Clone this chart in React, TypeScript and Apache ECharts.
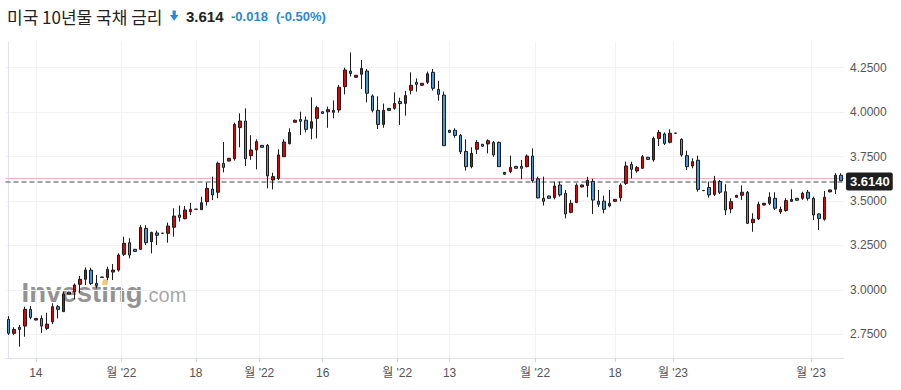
import React, { useEffect, useRef } from 'react';
import * as echarts from 'echarts';

// OHLC values (oldest -> newest)
const opens = [
  2.834, 2.755, 2.789, 2.796, 2.890, 2.830, 2.839, 2.783, 2.820, 2.905,
  2.877, 2.976, 2.989, 3.031, 3.059, 3.111, 3.036, 3.072, 3.070, 3.100,
  3.111, 3.200, 3.265, 3.228, 3.228, 3.346, 3.271, 3.320, 3.319, 3.318,
  3.352, 3.421, 3.400, 3.440, 3.454, 3.451, 3.496, 3.567, 3.549, 3.712,
  3.725, 3.738, 3.913, 3.950, 3.755, 3.787, 3.813, 3.813, 3.618, 3.627,
  3.749, 3.822, 3.943, 3.959, 3.954, 3.909, 3.965, 4.002, 4.002, 3.999,
  4.012, 4.143, 4.231, 4.196, 4.213, 4.231, 4.091, 4.010, 3.931, 4.010,
  4.021, 4.059, 4.049, 4.123, 4.168, 4.151, 4.168, 4.224, 4.128, 4.096,
  3.898, 3.898, 3.869, 3.779, 3.693, 3.791, 3.819, 3.821, 3.830, 3.830,
  3.650, 3.665, 3.695, 3.695, 3.693, 3.753, 3.625, 3.515, 3.528, 3.520,
  3.590, 3.543, 3.436, 3.492, 3.579, 3.587, 3.610, 3.499, 3.499, 3.472,
  3.498, 3.518, 3.599, 3.706, 3.669, 3.684, 3.746, 3.731, 3.852, 3.877,
  3.830, 3.882, 3.847, 3.755, 3.697, 3.729, 3.559, 3.576, 3.537, 3.609,
  3.552, 3.455, 3.521, 3.532, 3.549, 3.378, 3.399, 3.477, 3.487, 3.515,
  3.438, 3.446, 3.498, 3.515, 3.515, 3.549, 3.515, 3.427, 3.397, 3.551,
  3.566, 3.645,
];
const closes = [
  2.755, 2.777, 2.777, 2.890, 2.845, 2.839, 2.796, 2.807, 2.905, 2.890,
  2.976, 2.987, 3.027, 3.059, 3.111, 3.036, 3.025, 3.070, 3.115, 3.111,
  3.196, 3.262, 3.196, 3.216, 3.351, 3.265, 3.323, 3.307, 3.318, 3.359,
  3.415, 3.408, 3.449, 3.453, 3.453, 3.490, 3.571, 3.534, 3.712, 3.689,
  3.740, 3.931, 3.950, 3.738, 3.787, 3.834, 3.802, 3.641, 3.637, 3.759,
  3.832, 3.886, 3.954, 3.948, 3.903, 3.946, 4.025, 3.993, 4.014, 4.010,
  4.140, 4.237, 4.218, 4.207, 4.246, 4.106, 4.010, 3.931, 4.010, 4.021,
  4.049, 4.048, 4.093, 4.151, 4.156, 4.162, 4.216, 4.134, 4.100, 3.811,
  3.886, 3.869, 3.777, 3.693, 3.768, 3.830, 3.808, 3.839, 3.759, 3.693,
  3.661, 3.689, 3.684, 3.684, 3.753, 3.614, 3.517, 3.498, 3.515, 3.584,
  3.534, 3.427, 3.487, 3.589, 3.590, 3.616, 3.505, 3.481, 3.453, 3.487,
  3.509, 3.589, 3.697, 3.678, 3.689, 3.749, 3.734, 3.852, 3.886, 3.824,
  3.881, 3.881, 3.759, 3.693, 3.721, 3.565, 3.558, 3.534, 3.614, 3.549,
  3.449, 3.496, 3.532, 3.549, 3.374, 3.397, 3.481, 3.487, 3.521, 3.459,
  3.453, 3.502, 3.509, 3.504, 3.543, 3.515, 3.421, 3.402, 3.521, 3.562,
  3.645, 3.614,
];
const lows = [
  2.746, 2.745, 2.680, 2.736, 2.834, 2.828, 2.758, 2.773, 2.807, 2.839,
  2.877, 2.975, 2.946, 2.984, 3.027, 3.027, 3.008, 3.069, 3.055, 3.055,
  3.102, 3.190, 3.177, 3.214, 3.224, 3.252, 3.205, 3.252, 3.317, 3.265,
  3.299, 3.384, 3.397, 3.421, 3.452, 3.449, 3.474, 3.505, 3.515, 3.661,
  3.723, 3.727, 3.802, 3.697, 3.731, 3.678, 3.800, 3.571, 3.565, 3.618,
  3.749, 3.819, 3.941, 3.871, 3.886, 3.847, 3.852, 3.991, 3.912, 3.965,
  3.997, 4.100, 4.200, 4.194, 4.130, 4.055, 3.999, 3.905, 3.912, 4.008,
  4.014, 3.928, 3.980, 4.100, 4.115, 4.150, 4.158, 4.121, 4.064, 3.811,
  3.885, 3.856, 3.764, 3.671, 3.684, 3.764, 3.806, 3.768, 3.749, 3.693,
  3.648, 3.656, 3.682, 3.622, 3.689, 3.603, 3.515, 3.474, 3.513, 3.509,
  3.524, 3.402, 3.430, 3.487, 3.577, 3.521, 3.426, 3.466, 3.430, 3.464,
  3.496, 3.498, 3.590, 3.627, 3.659, 3.680, 3.732, 3.721, 3.809, 3.815,
  3.824, 3.880, 3.749, 3.674, 3.684, 3.552, 3.557, 3.519, 3.528, 3.539,
  3.421, 3.431, 3.519, 3.506, 3.370, 3.327, 3.393, 3.475, 3.477, 3.449,
  3.427, 3.440, 3.496, 3.502, 3.506, 3.502, 3.393, 3.337, 3.389, 3.549,
  3.539, 3.612,
];
const highs = [
  2.852, 2.789, 2.802, 2.905, 2.909, 2.841, 2.856, 2.871, 2.924, 2.914,
  2.989, 2.989, 3.036, 3.078, 3.126, 3.124, 3.083, 3.073, 3.130, 3.145,
  3.205, 3.299, 3.290, 3.230, 3.364, 3.364, 3.327, 3.333, 3.320, 3.378,
  3.459, 3.474, 3.472, 3.490, 3.455, 3.524, 3.603, 3.637, 3.721, 3.832,
  3.742, 3.941, 3.993, 4.021, 3.870, 3.847, 3.815, 3.821, 3.659, 3.791,
  3.847, 3.909, 3.958, 4.002, 3.976, 4.083, 4.036, 4.004, 4.031, 4.066,
  4.153, 4.250, 4.336, 4.209, 4.293, 4.243, 4.100, 4.089, 4.048, 4.023,
  4.111, 4.081, 4.119, 4.224, 4.190, 4.164, 4.228, 4.243, 4.177, 4.115,
  3.900, 3.909, 3.877, 3.847, 3.802, 3.843, 3.821, 3.847, 3.838, 3.834,
  3.663, 3.755, 3.697, 3.731, 3.762, 3.796, 3.637, 3.637, 3.530, 3.609,
  3.609, 3.562, 3.506, 3.599, 3.592, 3.636, 3.625, 3.562, 3.530, 3.562,
  3.511, 3.599, 3.721, 3.721, 3.697, 3.759, 3.748, 3.862, 3.899, 3.886,
  3.903, 3.883, 3.852, 3.783, 3.740, 3.755, 3.560, 3.609, 3.641, 3.618,
  3.594, 3.515, 3.534, 3.587, 3.556, 3.431, 3.496, 3.489, 3.549, 3.549,
  3.468, 3.515, 3.566, 3.517, 3.552, 3.562, 3.524, 3.430, 3.556, 3.564,
  3.656, 3.656,
];
const categories = opens.map((_, i) => String(i + 1));

const yTicks = [2.75, 3.0, 3.25, 3.5, 3.75, 4.0, 4.25];
const yMin = 2.6163;
const yMax = 4.3946;

// x tick positions expressed in candle-index units, with their labels
const xTickPositions = [5, 20.5, 34, 45.5, 57, 70.5, 80, 95.5, 110, 120.5, 145.5];
const xTickLabels = ['14', "월 '22", '18', "월 '22", '16', "월 '22", '13', "월 '22", '18', "월 '23", "월 '23"];

const titleText = '미국 10년물 국채 금리';
const lastPrice = 3.614;
const prevClose = 3.632;
const changeValue = -0.018;
const changePct = -0.5;

const UP = '#e80000';
const DOWN = '#4596dc';
const EDGE = '#1b1b1b';
const BLUE_TEXT = '#2c86d6';
const LATIN = '"Liberation Sans", Arial, "Noto Sans CJK KR", sans-serif';

export default function App() {
  const ref = useRef<HTMLDivElement>(null);

  useEffect(() => {
    if (!ref.current) return;
    const chart = echarts.init(ref.current, null, { renderer: 'svg' });
    const data = opens.map((o, i) => [o, closes[i], lows[i], highs[i]]);

    const option: any = {
      animation: false,
      backgroundColor: '#ffffff',
      grid: { left: 5.5, right: 57, top: 42, bottom: 32 },
      xAxis: [
        {
          type: 'category',
          data: categories,
          boundaryGap: true,
          axisLine: { show: true, lineStyle: { color: '#e0e3eb', width: 1 } },
          axisTick: { show: false },
          axisLabel: { show: false },
          splitLine: { show: false },
        },
        {
          type: 'value',
          gridIndex: 0,
          position: 'bottom',
          min: -0.5,
          max: categories.length - 0.5,
          axisLine: { show: false },
          axisTick: {
            show: true,
            length: 4,
            customValues: xTickPositions,
            lineStyle: { color: '#d3d6dd' },
          },
          axisLabel: {
            customValues: xTickPositions,
            formatter: (v: number) => {
              const k = xTickPositions.findIndex((p) => Math.abs(p - v) < 1e-6);
              return k >= 0 ? xTickLabels[k] : '';
            },
            color: '#555',
            fontSize: 12,
            margin: 9,
            fontFamily: LATIN,
          },
          splitLine: { show: true, lineStyle: { color: '#f1f2f5', width: 1 } },
        },
      ],
      yAxis: {
        type: 'value',
        position: 'right',
        min: yMin,
        max: yMax,
        axisLine: { show: true, lineStyle: { color: '#e0e3eb' } },
        axisTick: { show: false, customValues: yTicks },
        axisLabel: {
          customValues: yTicks,
          formatter: (v: number) => v.toFixed(4),
          color: '#555',
          fontSize: 12,
          margin: 6,
          fontFamily: LATIN,
        },
        splitLine: { show: true, lineStyle: { color: '#f0f2f6', width: 1 } },
      },
      series: [
        {
          type: 'candlestick',
          data,
          z: 5,
          barWidth: 3,
          itemStyle: {
            color: UP,
            color0: DOWN,
            borderColor: EDGE,
            borderColor0: EDGE,
            borderColorDoji: EDGE,
            borderWidth: 1,
          },
          markLine: {
            silent: true,
            symbol: ['none', 'none'],
            animation: false,
            data: [
              {
                yAxis: prevClose,
                lineStyle: { color: '#f6b3b7', type: 'solid', width: 1 },
                label: { show: false },
              },
              {
                yAxis: lastPrice,
                lineStyle: { color: '#858585', type: [5, 3], width: 1.5 },
                label: {
                  show: true,
                  position: 'end',
                  distance: 2,
                  formatter: lastPrice.toFixed(4),
                  backgroundColor: '#1e1e1e',
                  color: '#ffffff',
                  fontWeight: 'bold',
                  fontSize: 13,
                  fontFamily: LATIN,
                  padding: [3, 3, 2, 4],
                  borderRadius: 2,
                },
              },
            ],
          },
        },
      ],
      graphic: [
        {
          type: 'text',
          x: 7,
          y: 16,
          z: 10,
          style: {
            text: titleText,
            font: '17px "Noto Sans CJK KR", sans-serif',
            fill: '#222',
            verticalAlign: 'middle',
          },
        },
        {
          type: 'polygon',
          z: 10,
          shape: {
            points: [
              [172.6, 10.5], [175.8, 10.5], [175.8, 15], [178.4, 15],
              [174.2, 20.7], [170, 15], [172.6, 15],
            ],
          },
          style: { fill: BLUE_TEXT },
        },
        {
          type: 'text',
          x: 186,
          y: 16.5,
          z: 10,
          style: {
            text: lastPrice.toFixed(3),
            font: 'bold 15px ' + LATIN,
            fill: '#222',
            verticalAlign: 'middle',
          },
        },
        {
          type: 'text',
          x: 231,
          y: 16.5,
          z: 10,
          style: {
            text: changeValue.toFixed(3),
            font: 'bold 13px ' + LATIN,
            fill: BLUE_TEXT,
            verticalAlign: 'middle',
          },
        },
        {
          type: 'text',
          x: 276,
          y: 16.5,
          z: 10,
          style: {
            text: '(' + changePct.toFixed(2) + '%)',
            font: 'bold 13px ' + LATIN,
            fill: BLUE_TEXT,
            verticalAlign: 'middle',
          },
        },
        {
          type: 'text',
          x: 21.5,
          y: 292,
          z: 0,
          style: {
            text: 'Investing',
            font: 'bold 27.6px ' + LATIN,
            fill: 'rgba(128,128,128,0.85)',
            verticalAlign: 'middle',
          },
        },
        {
          type: 'text',
          x: 143,
          y: 294.5,
          z: 0,
          style: {
            text: '.com',
            font: '20px ' + LATIN,
            fill: 'rgba(150,150,150,0.85)',
            verticalAlign: 'middle',
          },
        },
        {
          type: 'polygon',
          z: 1,
          shape: { points: [[103, 279.2], [108.3, 279.2], [107.3, 285], [102, 285]] },
          style: { fill: '#f7c47f' },
        },
      ],
    };

    chart.setOption(option);
    return () => chart.dispose();
  }, []);

  return (
    <div
      ref={ref}
      style={{ position: 'fixed', left: 0, top: 0, width: 901, height: 390, background: '#fff' }}
    />
  );
}
